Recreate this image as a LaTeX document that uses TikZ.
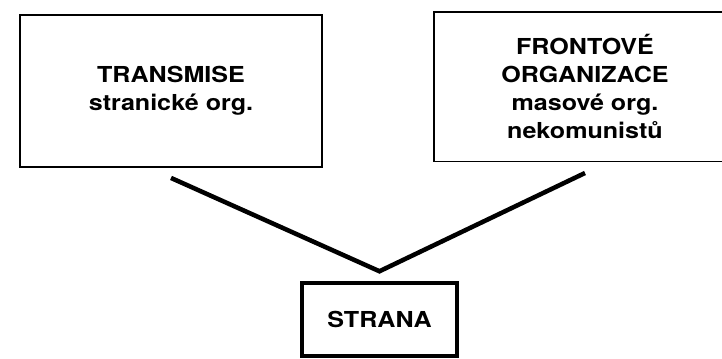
\documentclass[tikz,border=0pt]{standalone}
\usepackage{fontspec}
\setmainfont{TeX Gyre Heros}[FakeStretch=1.14]
\usetikzlibrary{positioning}

\tikzset{
  org/.style={draw, line width=1.4pt, minimum width=226.5pt, align=center,
    font=\bfseries\fontsize{16.5}{21}\selectfont},
  link/.style={line width=3.4pt},
}

\begin{document}
\begin{tikzpicture}[node distance=2cm,on grid]
            \useasboundingbox (0,0) rectangle (541.5pt,269.25pt);
            \node[org, line width=2.6pt, minimum width=116pt, minimum height=55pt] (strana) at (284.6pt,29.6pt) {STRANA};
            \node[org, minimum height=114pt] (transmise) [above left=171.3pt and 156.35pt of strana] {TRANSMISE\\stranické org.};
            \node[org, minimum height=112pt] (front) [above right=174.5pt and 154.15pt of strana] {FRONTOVÉ\\ORGANIZACE\\masové org.\\nekomunistů};
            \coordinate[above=7.4pt of strana.north] (apex);
            \coordinate[below=7.4pt of transmise.south] (t_end);
            \coordinate[below=7.9pt of front.south] (f_end);
            \draw[link] (t_end) -- (apex) -- (f_end);
        \end{tikzpicture}
\end{document}
